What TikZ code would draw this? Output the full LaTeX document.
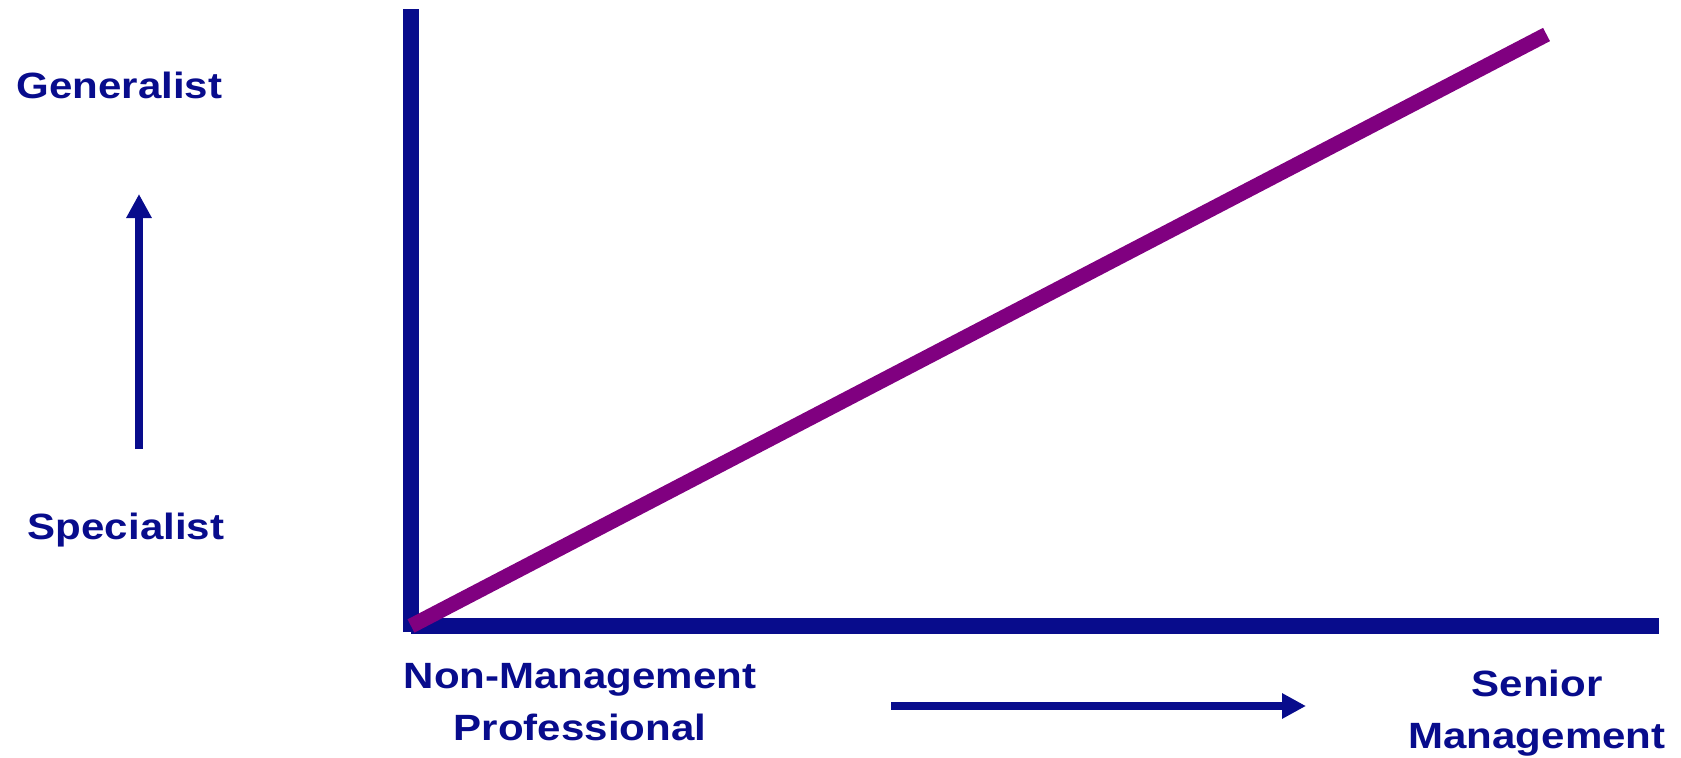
\documentclass[tikz,border=0pt]{standalone}
\usepackage{fontspec}
\setmainfont[FakeStretch=1.15]{Liberation Sans}
\usepackage{tikz}
\usetikzlibrary{arrows.meta}
\definecolor{axisblue}{RGB}{8,12,140}
\definecolor{careerpurple}{RGB}{128,0,128}
\tikzset{
	axisline/.style={line width=0.32cm, color=axisblue},
	pathline/.style={line width=0.3cm, color=careerpurple},
	trendarrow/.style={line width=0.16cm, color=axisblue, -{Triangle[length=0.48cm,width=0.48cm]}},
	axislabel/.style={color=axisblue, anchor=base, align=center, inner sep=0pt,
		font={\fontsize{20.8}{29.5}\selectfont\bfseries}}
}

\begin{document}
\begin{tikzpicture}
			%%%%% START %%%%%
			\useasboundingbox (0, 0) rectangle (33.62, 15.14);
			
			\coordinate (corner) at (8.22, 2.62);
			\coordinate (ybottom) at (8.22, 2.5);
			\coordinate (ytop) at (8.22, 14.96);
			\coordinate (xend) at (33.18, 2.62);
			\coordinate (careertop) at (30.93, 14.45);
			
			\draw[axisline] (ybottom) -- (ytop);
			\draw[axisline] (corner) -- (xend);
			\draw[pathline] (corner) -- (careertop);
			
			% base of a two-line label sits on its last line
			\node[axislabel] (generalist) at (2.39, 13.16) {Generalist};
			\node[axislabel] (specialist) at (2.52, 4.36) {Specialist};
			\node[axislabel] (nonmgmt) at (11.6, 0.34) {Non-Management\\Professional};
			\node[axislabel] (senior) at (30.74, 0.18) {Senior\\Management};
			
			\coordinate (upstart) at (2.78, 6.16);
			\coordinate (uptip) at (2.78, 11.26);
			\coordinate (rightstart) at (17.82, 1.02);
			\coordinate (righttip) at (26.12, 1.02);
			
			\draw[trendarrow] (upstart) -- (uptip);
			\draw[trendarrow] (rightstart) -- (righttip);
			
			%%%%% END %%%%%
\end{tikzpicture}
\end{document}
